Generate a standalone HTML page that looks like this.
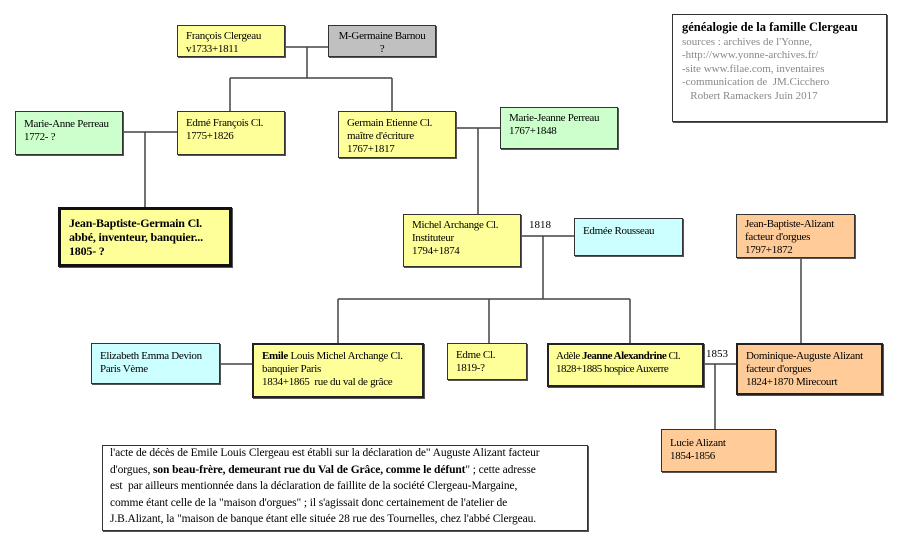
<!DOCTYPE html>
<html><head><meta charset="utf-8"><style>
body{margin:0;width:900px;height:550px;background:#fff;position:relative;overflow:hidden;font-family:"Liberation Serif",serif;font-size:11px;color:#000}
.b{position:absolute;box-sizing:border-box;border:1px solid #333;padding:3px 8px;line-height:13px;box-shadow:1px 1px 0 #555;white-space:nowrap;letter-spacing:-0.3px;overflow:visible}
.y{background:#ffff99}.g{background:#ccffcc}.c{background:#ccffff}.o{background:#ffcc99}.gr{background:#c0c0c0}
.t{border:2px solid #222}
svg{position:absolute;left:0;top:0}
</style></head><body>
<svg width="900" height="550"><g stroke="#444" stroke-width="1.5" fill="none">
<path d="M285 47H328M307 47V78M230 78H392M230 78V111M392 78V111"/>
<path d="M123 132H177M145 132V207"/>
<path d="M456 128H500M478 128V214"/>
<path d="M521 236H574M543 236V299M338 299H630M338 299V343M489 299V343M630 299V343"/>
<path d="M220 364H252"/>
<path d="M704 364H736M715 364V429"/>
<path d="M801 258V343"/>
</g></svg>
<div class="b y" style="left:177px;top:25px;width:108px;height:32px;padding-top:4px">François Clergeau<br>v1733+1811</div>
<div class="b gr" style="left:328px;top:25px;width:108px;height:32px;text-align:center;padding:4px 0">M-Germaine Barnou<br>?</div>
<div class="b g" style="left:15px;top:111px;width:108px;height:44px;padding-top:6px">Marie-Anne Perreau<br>1772- ?</div>
<div class="b y" style="left:177px;top:111px;width:108px;height:44px;padding-top:5px">Edmé François Cl.<br>1775+1826</div>
<div class="b y" style="left:338px;top:111px;width:118px;height:47px;padding-top:5px">Germain Etienne Cl.<br>maître d'écriture<br>1767+1817</div>
<div class="b g" style="left:500px;top:107px;width:118px;height:42px;padding-top:4px">Marie-Jeanne Perreau<br>1767+1848</div>
<div class="b" style="left:58px;top:207px;width:174px;height:60px;border:3px solid #111;background:#ffff99;font-weight:bold;font-size:12px;line-height:14px;padding:6px 8px;letter-spacing:-0.2px">Jean-Baptiste-Germain Cl.<br>abbé, inventeur, banquier...<br>1805- ?</div>
<div class="b y" style="left:403px;top:214px;width:118px;height:53px;padding-top:4px">Michel Archange Cl.<br>Instituteur<br>1794+1874</div>
<div style="position:absolute;left:529px;top:219px">1818</div>
<div class="b c" style="left:574px;top:218px;width:109px;height:38px;padding-top:6px">Edmée Rousseau</div>
<div class="b y" style="left:672px;top:14px;width:215px;height:108px;background:#fff;padding:6px 9px;line-height:13.5px;color:#888;letter-spacing:0"><b style="color:#000;font-size:12.5px">généalogie de la famille Clergeau</b><br>sources : archives de l'Yonne,<br>-http://www.yonne-archives.fr/<br>-site www.filae.com, inventaires<br>-communication de &nbsp;JM.Cicchero<br>&nbsp;&nbsp;&nbsp;Robert Ramackers Juin 2017</div>
<div class="b o" style="left:736px;top:214px;width:119px;height:44px;padding-top:3px">Jean-Baptiste-Alizant<br>facteur d'orgues<br>1797+1872</div>
<div class="b c" style="left:91px;top:343px;width:129px;height:41px;padding-top:6px">Elizabeth Emma Devion<br>Paris Vème</div>
<div class="b y t" style="left:252px;top:343px;width:172px;height:55px;padding-top:5px"><b>Emile</b> Louis Michel Archange Cl.<br>banquier Paris<br>1834+1865 &nbsp;rue du val de grâce</div>
<div class="b y" style="left:447px;top:343px;width:80px;height:37px;padding-top:5px">Edme Cl.<br>1819-?</div>
<div class="b y t" style="left:547px;top:343px;width:157px;height:44px;padding:5px 7px;letter-spacing:-0.5px">Adèle <b>Jeanne Alexandrine</b> Cl.<br>1828+1885 hospice Auxerre</div>
<div style="position:absolute;left:706px;top:348px">1853</div>
<div class="b o t" style="left:736px;top:343px;width:147px;height:52px;padding-top:5px">Dominique-Auguste Alizant<br>facteur d'orgues<br>1824+1870 Mirecourt</div>
<div class="b o" style="left:661px;top:429px;width:115px;height:43px;padding-top:7px">Lucie Alizant<br>1854-1856</div>
<div class="b" style="left:102px;top:445px;width:486px;height:86px;background:#fff;font-size:11.5px;line-height:16.5px;padding:0 0 0 7px;letter-spacing:-0.1px"><div style="margin-top:-1px">l'acte de décès de Emile Louis Clergeau est établi sur la déclaration de" Auguste Alizant facteur<br>d'orgues, <b>son beau-frère, demeurant rue du Val de Grâce, comme le défunt</b>" ; cette adresse<br>est &nbsp;par ailleurs mentionnée dans la déclaration de faillite de la société Clergeau-Margaine,<br>comme étant celle de la "maison d'orgues" ; il s'agissait donc certainement de l'atelier de<br>J.B.Alizant, la "maison de banque étant elle située 28 rue des Tournelles, chez l'abbé Clergeau.</div></div>
</body></html>
